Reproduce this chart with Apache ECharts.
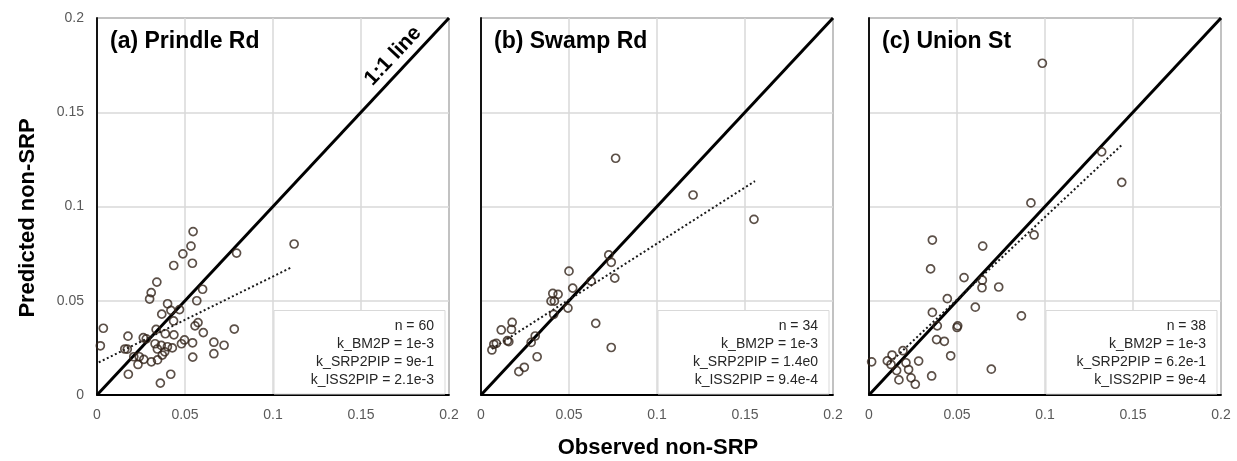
<!DOCTYPE html>
<html>
<head>
<meta charset="utf-8">
<script src="https://cdn.jsdelivr.net/npm/echarts@6/dist/echarts.min.js"></script>
<style>
html,body{margin:0;padding:0;background:#fff;}
#chart{width:1237px;height:461px;}
</style>
</head>
<body>
<div id="chart"></div>
<script>
// ---- data ----
const panelTitles = ['(a) Prindle Rd', '(b) Swamp Rd', '(c) Union St'];
const tickValues = [0, 0.05, 0.1, 0.15, 0.2];
const xAxisTitle = 'Observed non-SRP';
const yAxisTitle = 'Predicted non-SRP';
const oneToOne = [[0, 0], [0.2, 0.2]];

const pointsA = [
  [0.0546,0.0867],[0.0534,0.0790],[0.0488,0.0749],[0.0542,0.0699],[0.0436,0.0687],
  [0.0793,0.0753],[0.1120,0.0801],[0.0340,0.0599],[0.0308,0.0543],[0.0299,0.0509],
  [0.0600,0.0561],[0.0401,0.0484],[0.0567,0.0500],[0.0469,0.0453],[0.0420,0.0449],
  [0.0368,0.0429],[0.0435,0.0393],[0.0036,0.0354],[0.0336,0.0348],[0.0557,0.0367],
  [0.0574,0.0384],[0.0604,0.0331],[0.0780,0.0350],[0.0176,0.0312],[0.0263,0.0304],
  [0.0280,0.0298],[0.0388,0.0325],[0.0437,0.0319],[0.0019,0.0261],[0.0158,0.0244],
  [0.0172,0.0243],[0.0330,0.0272],[0.0365,0.0263],[0.0400,0.0256],[0.0428,0.0250],
  [0.0343,0.0244],[0.0371,0.0212],[0.0480,0.0272],[0.0497,0.0292],[0.0543,0.0277],
  [0.0664,0.0280],[0.0722,0.0264],[0.0664,0.0219],[0.0544,0.0201],[0.0209,0.0203],
  [0.0240,0.0203],[0.0266,0.0189],[0.0233,0.0162],[0.0309,0.0176],[0.0344,0.0186],
  [0.0385,0.0229],[0.0178,0.0110],[0.0419,0.0110],[0.0360,0.0063]
];
const pointsB = [
  [0.0408,0.0539],[0.0438,0.0534],[0.0398,0.0498],[0.0417,0.0498],[0.0521,0.0567],
  [0.0413,0.0428],[0.0494,0.0461],[0.0308,0.0313],[0.0285,0.0279],[0.0319,0.0203],
  [0.0246,0.0147],[0.0215,0.0124],[0.0177,0.0385],[0.0173,0.0348],[0.0115,0.0345],
  [0.0150,0.0288],[0.0158,0.0283],[0.0087,0.0274],[0.0073,0.0269],[0.0062,0.0239],
  [0.0652,0.0380],[0.0740,0.0252],[0.1551,0.0932],[0.0726,0.0743],[0.0740,0.0704],
  [0.0760,0.0620],[0.0626,0.0604],[0.0500,0.0657],[0.0765,0.1256],[0.1205,0.1061]
];
const pointsC = [
  [0.0920,0.1019],[0.0938,0.0849],[0.0360,0.0822],[0.0646,0.0790],[0.0350,0.0669],
  [0.0540,0.0623],[0.0644,0.0609],[0.0642,0.0569],[0.0737,0.0573],[0.0445,0.0511],
  [0.0604,0.0466],[0.0360,0.0438],[0.0866,0.0420],[0.0388,0.0367],[0.0504,0.0367],
  [0.0500,0.0358],[0.0384,0.0294],[0.0428,0.0285],[0.0464,0.0208],[0.0193,0.0235],
  [0.0131,0.0212],[0.0104,0.0181],[0.0125,0.0162],[0.0210,0.0171],[0.0282,0.0180],
  [0.0015,0.0176],[0.0157,0.0130],[0.0225,0.0135],[0.0170,0.0080],[0.0239,0.0091],
  [0.0263,0.0057],[0.0356,0.0101],[0.0695,0.0137],[0.0985,0.1760],[0.1322,0.1290],
  [0.1436,0.1128]
];
const trendA = [[0.001,0.0173],[0.110,0.0675]];
const trendB = [[0.0062,0.0245],[0.1557,0.1135]];
const trendC = [[0.012,0.0173],[0.1436,0.1326]];

const statsA = ['n = 60', 'k_BM2P = 1e-3', 'k_SRP2PIP = 9e-1', 'k_ISS2PIP = 2.1e-3'];
const statsB = ['n = 34', 'k_BM2P = 1e-3', 'k_SRP2PIP = 1.4e0', 'k_ISS2PIP = 9.4e-4'];
const statsC = ['n = 38', 'k_BM2P = 1e-3', 'k_SRP2PIP = 6.2e-1', 'k_ISS2PIP = 9e-4'];

// ---- layout ----
const FONT = '"Liberation Sans", Arial, sans-serif';
const gridLefts = [97, 481, 869];
const gridTop = 18, gridW = 352, gridH = 377;
const allPoints = [pointsA, pointsB, pointsC];
const allTrends = [trendA, trendB, trendC];
const allStats = [statsA, statsB, statsC];

const fmt = v => String(+(+v).toFixed(2));

const grids = [], xAxes = [], yAxes = [], series = [], graphics = [];
for (let i = 0; i < 3; i++) {
  grids.push({left: gridLefts[i], top: gridTop, width: gridW, height: gridH,
    show: true, borderColor: '#000', borderWidth: 1, backgroundColor: 'transparent'});
  xAxes.push({type: 'value', gridIndex: i, min: 0, max: 0.2, interval: 0.05,
    axisLine: {show: true, onZero: false, lineStyle: {color: '#000', width: 1.8}},
    axisTick: {show: false},
    axisLabel: {color: '#595959', fontSize: 14, fontFamily: FONT, margin: 13, formatter: fmt},
    splitLine: {show: true, lineStyle: {color: '#d9d9d9', width: 1.5}}});
  yAxes.push({type: 'value', gridIndex: i, min: 0, max: 0.2, interval: 0.05,
    axisLine: {show: true, onZero: false, lineStyle: {color: '#000', width: 1.8}},
    axisTick: {show: false},
    axisLabel: {show: i === 0, color: '#595959', fontSize: 14, fontFamily: FONT, margin: 13, formatter: fmt},
    splitLine: {show: true, lineStyle: {color: '#d9d9d9', width: 1.5}}});
  series.push({type: 'line', xAxisIndex: i, yAxisIndex: i, data: oneToOne,
    symbol: 'none', silent: true, z: 3, lineStyle: {color: '#000', width: 3}});
  series.push({type: 'line', xAxisIndex: i, yAxisIndex: i, data: allTrends[i],
    symbol: 'none', silent: true, z: 4, lineStyle: {color: '#1a1a1a', width: 2, type: [2, 2.5]}});
  series.push({type: 'scatter', xAxisIndex: i, yAxisIndex: i, data: allPoints[i],
    symbol: 'circle', symbolSize: 8, z: 5,
    itemStyle: {color: 'rgba(0,0,0,0)', borderColor: '#33241a', borderWidth: 1.7}});

  // panel title
  graphics.push({type: 'text', x: gridLefts[i] + 13, y: 42, z: 100,
    style: {text: panelTitles[i], font: 'bold 23px ' + FONT, fill: '#000',
      textAlign: 'left', textVerticalAlign: 'middle'}});
  // stats box
  const bx = gridLefts[i] + 177, by = 310.5;
  graphics.push({type: 'rect', z: 100,
    shape: {x: bx, y: by, width: gridW - 177 - 4, height: 395 - 1 - by},
    style: {fill: '#fff', stroke: '#d9d9d9', lineWidth: 1}});
  allStats[i].forEach((t, k) => {
    graphics.push({type: 'text', x: gridLefts[i] + gridW - 15, y: 326 + k * 18.2, z: 101,
      style: {text: t, font: '14px ' + FONT, fill: '#262626',
        textAlign: 'right', textVerticalAlign: 'middle'}});
  });
}
// 1:1 line label
graphics.push({type: 'text', x: 393, y: 56, z: 100, rotation: Math.atan2(gridH, gridW),
  style: {text: '1:1 line', font: 'bold 21px ' + FONT, fill: '#000',
    textAlign: 'center', textVerticalAlign: 'middle'}});
// axis titles
graphics.push({type: 'text', x: 658, y: 448, z: 100,
  style: {text: xAxisTitle, font: 'bold 22px ' + FONT, fill: '#000',
    textAlign: 'center', textVerticalAlign: 'middle'}});
graphics.push({type: 'text', x: 28, y: 218, z: 100, rotation: Math.PI / 2,
  style: {text: yAxisTitle, font: 'bold 22px ' + FONT, fill: '#000',
    textAlign: 'center', textVerticalAlign: 'middle'}});

const chart = echarts.init(document.getElementById('chart'), null, {renderer: 'canvas'});
chart.setOption({
  animation: false,
  backgroundColor: '#fff',
  grid: grids, xAxis: xAxes, yAxis: yAxes, series: series,
  graphic: {elements: graphics}
});
</script>
</body>
</html>
